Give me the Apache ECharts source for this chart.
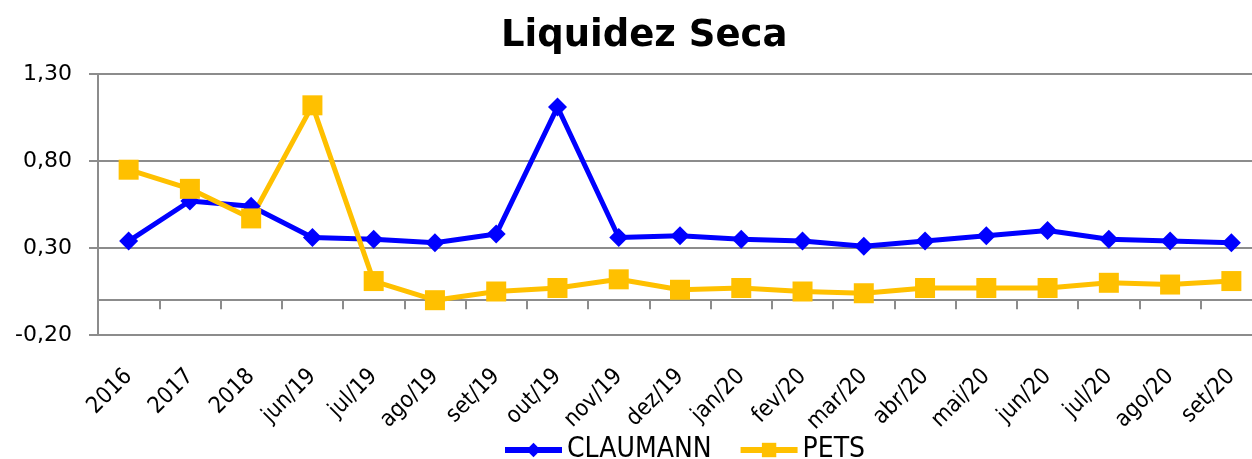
<!DOCTYPE html>
<html>
<head>
<meta charset="utf-8">
<script src="https://cdn.jsdelivr.net/npm/echarts@6/dist/echarts.min.js"></script>
<style>
html,body{margin:0;padding:0;background:#fff;overflow:hidden;}
#main{width:1262px;height:459px;}
</style>
</head>
<body>
<div id="main"></div>
<script>
var categorias = ['2016','2017','2018','jun/19','jul/19','ago/19','set/19','out/19','nov/19','dez/19','jan/20','fev/20','mar/20','abr/20','mai/20','jun/20','jul/20','ago/20','set/20'];
var claumann = [0.34,0.57,0.54,0.36,0.35,0.33,0.38,1.11,0.36,0.37,0.35,0.34,0.31,0.34,0.37,0.40,0.35,0.34,0.33];
var pets = [0.75,0.64,0.47,1.12,0.11,0.00,0.05,0.07,0.12,0.06,0.07,0.05,0.04,0.07,0.07,0.07,0.10,0.09,0.11];
var yMin = -0.2, yMax = 1.3, yStep = 0.5;

var grafico = echarts.init(document.getElementById('main'));
var opcao = {
	animation: false,
	title: {
		text: 'Liquidez Seca',
		left: 496,
		top: 13,
		textStyle: {
			fontFamily: 'DejaVu Sans',
			fontWeight: 'bold',
			fontSize: 37,
			color: '#000'
		}
	},
	legend: {
		left: 497,
		top: 431,
		itemWidth: 57,
		itemHeight: 18,
		itemGap: 26,
		textStyle: {
			fontFamily: 'DejaVu Sans Condensed',
			fontSize: 28,
			color: '#000'
		},
		data: [
			{ name: 'CLAUMANN', lineStyle: { width: 6 } },
			{ name: 'PETS', lineStyle: { width: 6 } }
		]
	},
	grid: {
		left: 98,
		top: 74,
		right: 0,
		height: 261,
		containLabel: false,
		outerBoundsMode: 'none'
	},
	xAxis: {
		type: 'category',
		data: categorias,
		axisLine: {
			onZero: true,
			lineStyle: { color: '#8c8c8c', width: 2 }
		},
		axisTick: {
			show: true,
			length: 9,
			lineStyle: { color: '#8c8c8c', width: 2 }
		},
		axisLabel: {
			rotate: 45,
			margin: 38,
			fontFamily: 'DejaVu Sans Condensed',
			fontSize: 23,
			color: '#000',
			interval: 0
		}
	},
	yAxis: {
		type: 'value',
		min: yMin,
		max: yMax,
		interval: yStep,
		axisLine: {
			show: true,
			lineStyle: { color: '#8c8c8c', width: 2 }
		},
		axisTick: {
			show: true,
			length: 9,
			lineStyle: { color: '#8c8c8c', width: 2 }
		},
		splitLine: {
			show: true,
			lineStyle: { color: '#8c8c8c', width: 2 }
		},
		axisLabel: {
			margin: 26,
			fontFamily: 'DejaVu Sans',
			fontSize: 22,
			color: '#000',
			formatter: function (v) { return v.toFixed(2).replace('.', ','); }
		}
	},
	series: [
		{
			name: 'CLAUMANN',
			type: 'line',
			data: claumann,
			symbol: 'diamond',
			symbolSize: 19,
			color: '#0000ff',
			lineStyle: { width: 5, color: '#0000ff' },
			itemStyle: { color: '#0000ff' }
		},
		{
			name: 'PETS',
			type: 'line',
			data: pets,
			symbol: 'rect',
			symbolSize: 20,
			color: '#ffc000',
			lineStyle: { width: 5, color: '#ffc000' },
			itemStyle: { color: '#ffc000' }
		}
	]
};
grafico.setOption(opcao);
</script>
</body>
</html>
